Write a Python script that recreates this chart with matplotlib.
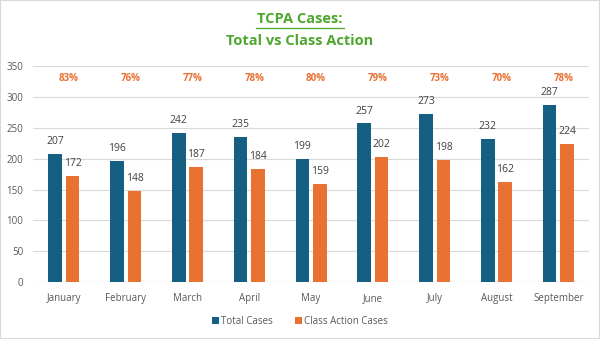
import numpy as np
import matplotlib.pyplot as plt

months = ["January", "February", "March", "April", "May", "June",
          "July", "August", "September"]
total_cases = [207, 196, 242, 235, 199, 257, 273, 232, 287]
class_cases = [172, 148, 187, 184, 159, 202, 198, 162, 224]

blue = "#156082"
orange = "#E97132"
green = "#4EA72E"
grey = "#595959"

plt.rcParams["font.family"] = ["Open Sans", "DejaVu Sans"]

fig = plt.figure(figsize=(6, 3.39), dpi=100)
ax = fig.add_axes([0.055, 0.168, 0.927, 0.637])

x = np.arange(len(months))
w = 0.22
off = 0.142
b1 = ax.bar(x - off, total_cases, w, color=blue, label="Total Cases", zorder=3)
b2 = ax.bar(x + off, class_cases, w, color=orange, label="Class Action Cases", zorder=3)

for xi, v in zip(x - off, total_cases):
    ax.annotate(str(v), (xi, v), xytext=(0, 5), textcoords="offset points",
                ha="center", va="bottom", fontsize=7.5, color="#404040")
for xi, v in zip(x + off, class_cases):
    ax.annotate(str(v), (xi, v), xytext=(0, 5), textcoords="offset points",
                ha="center", va="bottom", fontsize=7.5, color="#404040")

# share of class actions per month
for xi, t, c in zip(x, total_cases, class_cases):
    ax.text(xi + 0.08, 330, f"{round(100 * c / t)}%", ha="center", va="center",
            fontsize=7, color=orange, fontweight="bold")

ax.set_ylim(0, 350)
ax.set_yticks(range(0, 351, 50))
ax.set_xlim(-0.5, len(months) - 0.5)
ax.set_xticks(x)
ax.set_xticklabels(months)
ax.tick_params(axis="both", length=0, labelsize=7, labelcolor=grey)
ax.tick_params(axis="x", pad=8)
ax.tick_params(axis="y", pad=7)
ax.grid(axis="y", color="#d9d9d9", linewidth=0.8, zorder=0)
for s in ax.spines.values():
    s.set_visible(False)
ax.axhline(0, color="#d9d9d9", linewidth=0.8, zorder=1)

fig.text(0.5, 0.945, "TCPA Cases:", ha="center", va="center", fontsize=10.5,
         fontweight="bold", color=green)
fig.add_artist(plt.Line2D([0.427, 0.573], [0.917, 0.917], color=green, linewidth=0.9))
fig.text(0.5, 0.878, "Total vs Class Action", ha="center", va="center",
         fontsize=10.5, fontweight="bold", color=green)

fig.legend(handles=[b1, b2], loc="center", bbox_to_anchor=(0.5, 0.053), ncol=2,
           frameon=False, fontsize=7, labelcolor=grey, handlelength=0.7,
           handleheight=0.7, handletextpad=0.3, columnspacing=2.2)

fig.add_artist(plt.Rectangle((0, 0), 1, 1, transform=fig.transFigure, fill=False,
                             edgecolor="#d9d9d9", linewidth=1.5))

fig.savefig("out.png", dpi=100)
